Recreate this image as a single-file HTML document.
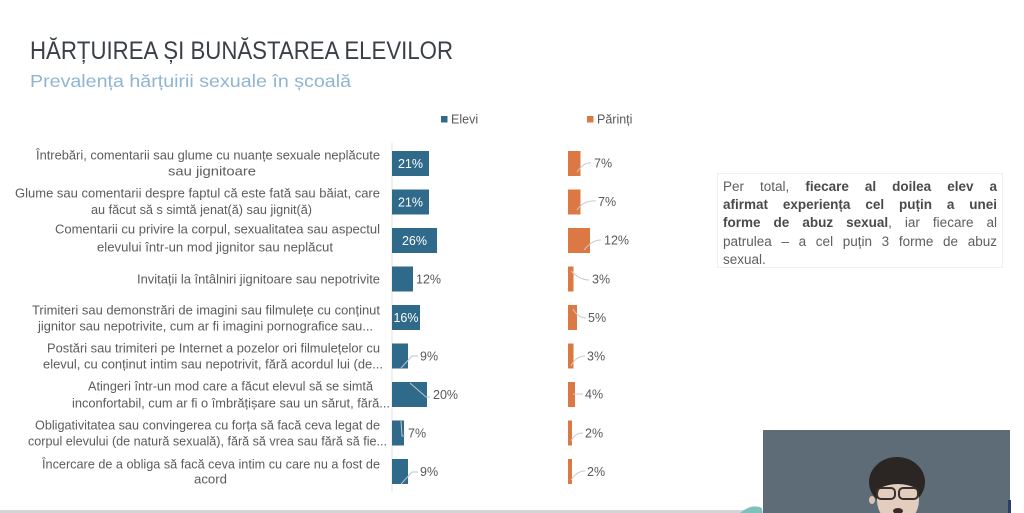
<!DOCTYPE html>
<html><head><meta charset="utf-8">
<style>
html,body{margin:0;padding:0;background:#fff;}
body{width:1024px;height:513px;position:relative;overflow:hidden;font-family:"Liberation Sans",sans-serif;}
svg{position:absolute;left:0;top:0;}
.box{position:absolute;left:717px;top:173px;width:286px;height:95px;border:1px solid #f0f0f0;box-sizing:border-box;}
.ln{position:absolute;left:723px;width:274px;font-size:13.5px;color:#5e5e5e;text-align:justify;text-align-last:justify;white-space:normal;line-height:18px;height:18px;}
.ln b{color:#4a4a4a;}
</style></head><body>
<svg width="1024" height="513" viewBox="0 0 1024 513" font-family="Liberation Sans, sans-serif">
  <text x="30" y="59" font-size="25" fill="#3b4048" textLength="423" lengthAdjust="spacingAndGlyphs">HĂRȚUIREA ȘI BUNĂSTAREA ELEVILOR</text>
  <text x="30" y="87" font-size="17.5" fill="#8fb5d2" textLength="321" lengthAdjust="spacingAndGlyphs">Prevalența hărțuirii sexuale în școală</text>

  <!-- legend -->
  <rect x="441" y="116" width="6.5" height="6.5" fill="#2f6a8b"/>
  <text x="451" y="123.5" font-size="12.5" fill="#595959">Elevi</text>
  <rect x="587" y="116" width="6.5" height="6.5" fill="#db7843"/>
  <text x="597" y="123.5" font-size="12.5" fill="#595959">Părinți</text>

  <!-- axis -->
  <line x1="392" y1="143" x2="392" y2="492" stroke="#e2e2e2" stroke-width="1"/>

  <!-- category labels -->
  <g font-size="12.5" fill="#5c5c5c" text-anchor="middle">
    <text x="208" y="159.5" textLength="344" lengthAdjust="spacingAndGlyphs">Întrebări, comentarii sau glume cu nuanțe sexuale neplăcute</text>
    <text x="212" y="175.5" textLength="88" lengthAdjust="spacingAndGlyphs">sau jignitoare</text>

    <text x="197.5" y="197.5" textLength="365" lengthAdjust="spacingAndGlyphs">Glume sau comentarii despre faptul că este fată sau băiat, care</text>
    <text x="201.5" y="214" textLength="221" lengthAdjust="spacingAndGlyphs">au făcut să s simtă jenat(ă) sau jignit(ă)</text>

    <text x="217.5" y="233.5" textLength="325" lengthAdjust="spacingAndGlyphs">Comentarii cu privire la corpul, sexualitatea sau aspectul</text>
    <text x="215" y="251.5" textLength="236" lengthAdjust="spacingAndGlyphs">elevului într-un mod jignitor sau neplăcut</text>

    <text x="258.5" y="283.5" textLength="243" lengthAdjust="spacingAndGlyphs">Invitații la întâlniri jignitoare sau nepotrivite</text>

    <text x="206" y="314.5" textLength="348" lengthAdjust="spacingAndGlyphs">Trimiteri sau demonstrări de imagini sau filmulețe cu conținut</text>
    <text x="205.5" y="330.5" textLength="335" lengthAdjust="spacingAndGlyphs">jignitor sau nepotrivite, cum ar fi imagini pornografice sau...</text>

    <text x="213.5" y="352.5" textLength="333" lengthAdjust="spacingAndGlyphs">Postări sau trimiteri pe Internet a pozelor ori filmulețelor cu</text>
    <text x="213" y="368.5" textLength="340" lengthAdjust="spacingAndGlyphs">elevul, cu conținut intim sau nepotrivit, fără acordul lui (de...</text>

    <text x="230.5" y="390.5" textLength="285" lengthAdjust="spacingAndGlyphs">Atingeri într-un mod care a făcut elevul să se simtă</text>
    <text x="231" y="407.5" textLength="318" lengthAdjust="spacingAndGlyphs">inconfortabil, cum ar fi o îmbrățișare sau un sărut, fără...</text>

    <text x="207.5" y="429.5" textLength="345" lengthAdjust="spacingAndGlyphs">Obligativitatea sau convingerea cu forța să facă ceva legat de</text>
    <text x="207.5" y="445.5" textLength="359" lengthAdjust="spacingAndGlyphs">corpul elevului (de natură sexuală), fără să vrea sau fără să fie...</text>

    <text x="211" y="468.5" textLength="338" lengthAdjust="spacingAndGlyphs">Încercare de a obliga să facă ceva intim cu care nu a fost de</text>
    <text x="210.5" y="483.5" textLength="33" lengthAdjust="spacingAndGlyphs">acord</text>
  </g>

  <!-- blue bars -->
  <g fill="#2f6a8b">
    <rect x="392" y="151" width="37" height="25"/>
    <rect x="392" y="189.5" width="37" height="25"/>
    <rect x="392" y="228" width="45" height="25"/>
    <rect x="392" y="266.5" width="21" height="25"/>
    <rect x="392" y="305" width="28" height="25"/>
    <rect x="392" y="343.5" width="16" height="25"/>
    <rect x="392" y="382" width="35" height="25"/>
    <rect x="392" y="420.5" width="12" height="25"/>
    <rect x="392" y="459" width="16" height="25"/>
  </g>
  <!-- inside labels -->
  <g font-size="12.5" fill="#ffffff" text-anchor="middle">
    <text x="410.5" y="168">21%</text>
    <text x="410.5" y="206.5">21%</text>
    <text x="414.5" y="245">26%</text>
    <text x="406" y="322">16%</text>
  </g>
  <!-- leader lines blue -->
  <g stroke="#b8c6cf" stroke-width="1" fill="none">
    <polyline points="401,368 412,356 418,356"/>
    <polyline points="410,383 426,397 430,397"/>
    <polyline points="401,421 402,436 405,436"/>
    <polyline points="401,484 412,472 418,472"/>
  </g>
  <g font-size="12.5" fill="#595959">
    <text x="416" y="283.5">12%</text>
    <text x="420" y="360.5">9%</text>
    <text x="433" y="399">20%</text>
    <text x="408" y="437.5">7%</text>
    <text x="420" y="476">9%</text>
  </g>

  <!-- orange bars -->
  <g fill="#db7843">
    <rect x="568" y="151" width="12.5" height="25"/>
    <rect x="568" y="189.5" width="12.5" height="25"/>
    <rect x="568" y="228" width="22" height="25"/>
    <rect x="568" y="266.5" width="5.5" height="25"/>
    <rect x="568" y="305" width="9" height="25"/>
    <rect x="568" y="343.5" width="5.5" height="25"/>
    <rect x="568" y="382" width="7" height="25"/>
    <rect x="568" y="420.5" width="4" height="25"/>
    <rect x="568" y="459" width="4" height="25"/>
  </g>
  <g stroke="#c9c9c9" stroke-width="1" fill="none">
    <path d="M577,172 Q584,162 591,163"/>
    <path d="M577,210 Q584,200 596,201"/>
    <path d="M584,250 Q592,240 601,240"/>
    <path d="M571,271 Q580,280 589,280"/>
    <path d="M573,309 Q578,318 586,318"/>
    <path d="M571,366 Q576,356 585,356"/>
    <path d="M573,394 L583,394"/>
    <path d="M571,441 Q575,433 583,433"/>
    <path d="M571,480 Q577,471 585,471"/>
  </g>
  <g font-size="12.5" fill="#595959">
    <text x="594" y="167.5">7%</text>
    <text x="598" y="206">7%</text>
    <text x="604" y="244.5">12%</text>
    <text x="592" y="283.5">3%</text>
    <text x="588" y="322">5%</text>
    <text x="587" y="360.5">3%</text>
    <text x="585" y="398.5">4%</text>
    <text x="585" y="437.5">2%</text>
    <text x="587" y="476">2%</text>
  </g>

  <!-- bottom strip -->
  <rect x="0" y="510" width="763" height="3" fill="#d3d6d9"/>
  <path d="M740,513 Q752,503 762,508 L762,513 Z" fill="#7fc0bc"/>

  <!-- webcam -->
  <rect x="763" y="430" width="247" height="83" fill="#5e6c78"/>
  <rect x="1008" y="500" width="3" height="13" fill="#2c3e6a"/>
  <ellipse cx="897" cy="482" rx="28" ry="25" fill="#2b2624"/>
  <ellipse cx="898" cy="500" rx="21" ry="24" fill="#e2cdbf"/>
  <path d="M874,478 Q897,455 922,478 L920,490 Q898,478 876,490 Z" fill="#2b2624"/>
  <ellipse cx="872" cy="500" rx="3" ry="4" fill="#d8c2b4"/>
  <rect x="877" y="488" width="18" height="11" rx="4" fill="none" stroke="#3a302b" stroke-width="2"/>
  <rect x="899" y="488" width="19" height="11" rx="4" fill="none" stroke="#3a302b" stroke-width="2"/>
  <ellipse cx="898" cy="511" rx="5" ry="3" fill="#3b2a28"/>
</svg>

<div class="box"></div>
<div class="ln" style="top:178px">Per total, <b>fiecare al doilea elev a</b></div>
<div class="ln" style="top:196px"><b>afirmat experiența cel puțin a unei</b></div>
<div class="ln" style="top:214px"><b>forme de abuz sexual</b>, iar fiecare al</div>
<div class="ln" style="top:233px">patrulea – a cel puțin 3 forme de abuz</div>
<div class="ln" style="top:251px;text-align-last:left">sexual.</div>
</body></html>
